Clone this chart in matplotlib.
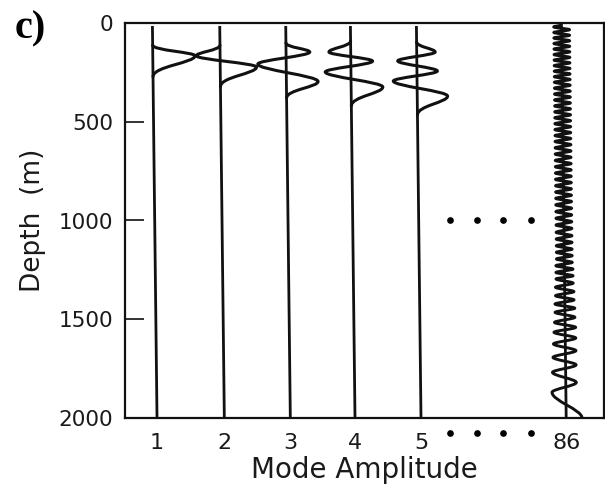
import matplotlib
matplotlib.use("Agg")
import matplotlib.pyplot as plt
from matplotlib.path import Path
from matplotlib.patches import PathPatch

# ---------------- data ----------------
mode_labels = ["1", "2", "3", "4", "5", "86"]
mode_positions = [1.0, 2.02, 3.02, 4.0, 5.0, 7.2]
ellipsis_positions = [5.44, 5.85, 6.24, 6.67]
ellipsis_depth = 1000
depth_ticks = [0, 500, 1000, 1500, 2000]

# mode shapes: start depth, extremum depths, extremum amplitudes, end depth
m1_start, m1_end = 112, 272
m1_depth = [166]
m1_amp = [0.64]

m2_start, m2_end = 112, 322
m2_depth = [166, 223]
m2_amp = [-0.36, 0.55]

m3_start, m3_end = 101, 380
m3_depth = [147, 208, 296]
m3_amp = [0.36, -0.43, 0.48]

m4_start, m4_end = 91, 420
m4_depth = [147, 193, 248, 324]
m4_amp = [-0.33, 0.33, -0.39, 0.48]

m5_start, m5_end = 96, 466
m5_depth = [147, 192, 243, 294, 370]
m5_amp = [0.28, -0.29, 0.31, -0.36, 0.46]

m86_start = 8
m86_depth = [20, 34, 48, 62, 76, 90, 104, 118, 132, 146, 160, 174, 188, 202,
             216, 230, 244, 258, 272, 286, 300, 315, 330, 345, 360, 375, 390,
             405, 420, 435, 450, 465, 480, 495, 510, 525, 540, 555, 570, 585,
             600, 616, 632, 648, 664, 680, 696, 712, 728, 744, 760, 776, 792,
             808, 824, 840, 856, 872, 888, 904, 921, 938, 955, 972, 989, 1006,
             1023, 1040, 1060, 1077, 1094, 1111, 1128, 1145, 1161, 1178, 1195,
             1212, 1229, 1246, 1263, 1280, 1296, 1317, 1338, 1360, 1381, 1402,
             1423, 1444, 1465, 1490, 1516, 1541, 1566, 1595, 1625, 1659, 1693,
             1731, 1769, 1820, 1870, 2000]
m86_mag = ([0.12] * 78 +
           [0.13, 0.13, 0.13, 0.13, 0.13, 0.13, 0.14, 0.14, 0.14, 0.14,
            0.15, 0.15, 0.15, 0.15, 0.16, 0.16, 0.17, 0.16, 0.18, 0.16,
            0.19, 0.16, 0.20, 0.16, 0.21, 0.24])
m86_amp = [(-m if i % 2 == 0 else m) for i, m in enumerate(m86_mag)]

modes = [
    (m1_start, m1_depth, m1_amp, m1_end),
    (m2_start, m2_depth, m2_amp, m2_end),
    (m3_start, m3_depth, m3_amp, m3_end),
    (m4_start, m4_depth, m4_amp, m4_end),
    (m5_start, m5_depth, m5_amp, m5_end),
    (m86_start, m86_depth, m86_amp, None),
]

# ---------------- style ----------------
plt.rcParams['font.family'] = ['DejaVu Sans']
W, H = 605, 490
fig = plt.figure(figsize=(W / 100, H / 100), dpi=100)
ax = fig.add_axes([125 / W, 1 - 418 / H, 479 / W, 395 / H])

skew = 0.07          # slight drift of the traced baselines
top_depth = 15
bottom_depth = 2000
ink = '#111111'


def X(pos, a, d):
    return pos + skew * (d / 2000.0 - 1.0) + a


for pos, (d0, depths, amps, d_end) in zip(mode_positions, modes):
    # baseline
    ax.plot([X(pos, 0, top_depth), X(pos, 0, bottom_depth)],
            [top_depth, bottom_depth], color=ink, lw=2.0,
            solid_capstyle='butt')
    # mode shape as smooth bezier through extrema
    verts = [(X(pos, 0, d0), d0)]
    codes = [Path.MOVETO]
    pa, pd = 0.0, d0
    first = True
    for d, a in zip(depths, amps):
        h = d - pd
        k1 = 0.5 if first else 1 / 3
        c1d = pd + k1 * h
        c2d = d - h / 3
        verts += [(X(pos, pa, c1d), c1d), (X(pos, a, c2d), c2d), (X(pos, a, d), d)]
        codes += [Path.CURVE4] * 3
        pa, pd = a, d
        first = False
    if d_end is not None:
        h = d_end - pd
        c1d = pd + h / 3
        c2d = d_end - 0.5 * h
        verts += [(X(pos, pa, c1d), c1d), (X(pos, 0, c2d), c2d), (X(pos, 0, d_end), d_end)]
        codes += [Path.CURVE4] * 3
    patch = PathPatch(Path(verts, codes), facecolor='none', edgecolor=ink,
                      lw=2.2 if d_end is not None else 2.1, capstyle='round',
                      joinstyle='round')
    ax.add_patch(patch)

# ellipsis dots inside and below plot
ax.plot(ellipsis_positions, [ellipsis_depth] * len(ellipsis_positions), 'o',
        color='black', ms=3.8, ls='none')
ax.plot(ellipsis_positions, [2076] * len(ellipsis_positions), 'o',
        color='black', ms=3.8, ls='none', clip_on=False)

ax.set_xlim(0.515, 7.773)
ax.set_ylim(2000, 0)
ax.set_yticks(depth_ticks)
ax.set_yticklabels([str(t) for t in depth_ticks], fontsize=15.5)
ax.set_xticks(mode_positions)
ax.set_xticklabels(mode_labels, fontsize=16)
ax.tick_params(axis='y', direction='in', length=14, width=1.2, pad=8.3,
               colors=ink, labelcolor='#1a1a1a')
ax.tick_params(axis='x', length=0, pad=10.5, labelcolor='#1a1a1a')
for s in ax.spines.values():
    s.set_linewidth(1.6)
    s.set_color(ink)

ax.set_xlabel('Mode Amplitude', fontsize=20, color='#1a1a1a')
ax.xaxis.set_label_coords(0.5, -0.095)
ax.set_ylabel('Depth  (m)', fontsize=19, color='#1a1a1a')
ax.yaxis.set_label_coords(-0.165, 0.5)

fig.text(30 / W, 1 - 29 / H, 'c)', family='Liberation Serif', weight='bold',
         fontsize=29, ha='center', va='center')

fig.savefig('out.png', dpi=100)
